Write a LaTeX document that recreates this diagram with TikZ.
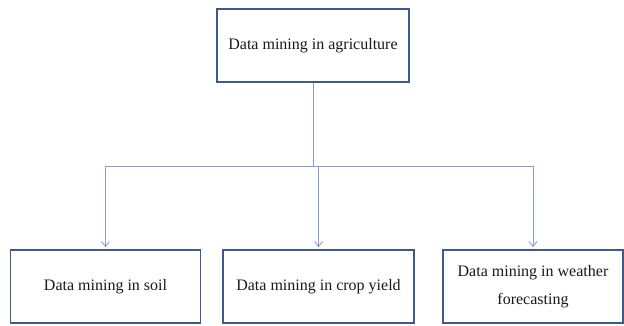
\documentclass[tikz,border=0pt]{standalone}
\usepackage{fontspec}
\setmainfont{Liberation Serif}
\usepackage{tikz}
\usetikzlibrary{positioning, arrows.meta}
\definecolor{agBorder}{RGB}{60, 90, 140}
\definecolor{agLine}{RGB}{130, 160, 210}
\definecolor{agText}{RGB}{25, 25, 25}
\tikzset{
    base/.style={
        font=\fontsize{16}{28}\selectfont,
        align=center,
        text=agText
    },
    topic/.style={
        base,
        rectangle,
        draw=agBorder,
        line width=1.6pt,
        fill=white,
        minimum height=73pt,
        inner sep=2pt
    },
    link/.style={
        line width=0.9pt,
        color=agLine
    },
    flow/.style={
        link,
        -{Straight Barb[length=5pt, width=8pt]},
        shorten >=2pt
    }
}

\begin{document}
\begin{tikzpicture}[x=1pt, y=1pt]
    % Frame
    \useasboundingbox (0,0) rectangle (624,-325);

    % Boxes
    \node[topic, minimum width=192pt] (agri) at (313,-45.5) {Data mining in agriculture};
    \node[topic, minimum width=190pt] (soil) at (105.5,-286.5) {Data mining in soil};
    \node[topic, minimum width=191pt] (crop) at (318.5,-286.5) {Data mining in crop yield};
    \node[topic, minimum width=180pt] (weather) at (533,-286.5) {Data mining in weather\\forecasting};

    % Tree lines
    \coordinate (split) at (313,-166);
    \draw[link] (agri.south) -- (split);
    \draw[link] (split -| soil.north) -- (split -| weather.north);
    \foreach \n in {soil, crop, weather}
        \draw[flow] (split -| \n.north) -- (\n.north);

\end{tikzpicture}
\end{document}
